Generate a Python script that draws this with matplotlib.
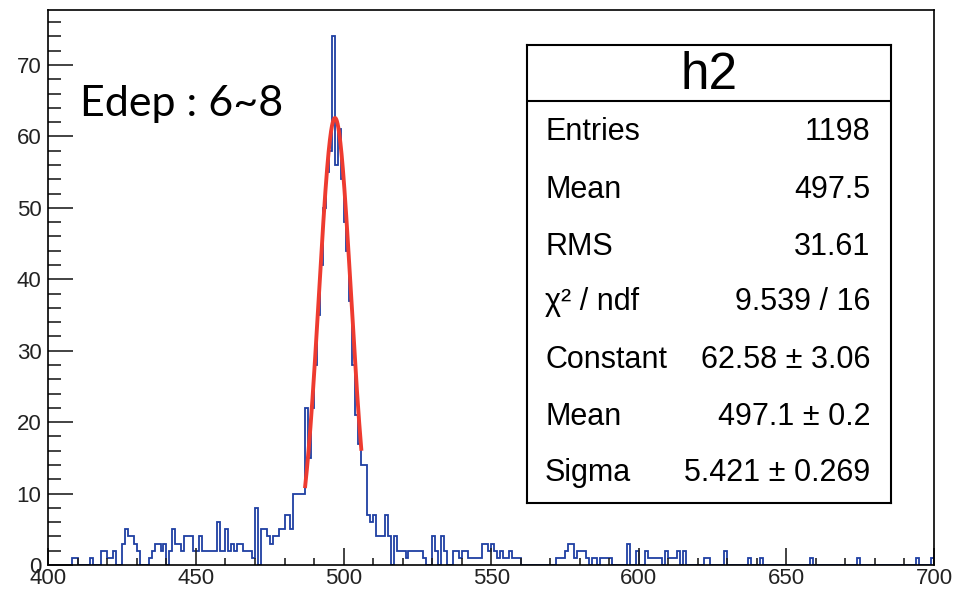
import numpy as np
import matplotlib.pyplot as plt
from matplotlib.ticker import MultipleLocator

plt.rcParams['font.family'] = ['Liberation Sans', 'DejaVu Sans']

# histogram h2 : 300 bins of width 1 between 400 and 700
bin_lo, bin_hi = 400, 700
counts_400_449 = [0, 0, 0, 0, 0, 0, 0, 0, 1, 1,
                  0, 0, 0, 0, 1, 0, 0, 0, 2, 2,
                  1, 1, 2, 0, 0, 3, 5, 4, 4, 3,
                  2, 0, 0, 0, 1, 2, 3, 3, 2, 3,
                  0, 2, 5, 3, 3, 2, 4, 4, 4, 2]
counts_450_499 = [2, 4, 2, 2, 2, 2, 2, 6, 2, 2,
                  5, 2, 3, 2, 3, 3, 2, 2, 2, 1,
                  8, 0, 5, 5, 4, 3, 4, 4, 5, 5,
                  7, 7, 5, 10, 10, 10, 10, 22, 15, 22,
                  28, 35, 42, 50, 55, 58, 74, 56, 61, 54]
counts_500_549 = [48, 44, 37, 28, 21, 17, 14, 14, 7, 6,
                  7, 4, 4, 4, 7, 4, 0, 4, 2, 2,
                  2, 1, 2, 2, 2, 2, 2, 1, 0, 0,
                  4, 2, 0, 4, 2, 0, 0, 2, 2, 1,
                  2, 2, 1, 1, 1, 1, 1, 3, 3, 2]
counts_550_599 = [3, 2, 1, 2, 1, 1, 2, 1, 1, 1,
                  0, 0, 0, 0, 0, 0, 0, 0, 0, 0,
                  0, 0, 1, 1, 1, 2, 3, 3, 1, 2,
                  2, 2, 1, 0, 1, 1, 0, 1, 1, 1,
                  1, 0, 0, 0, 0, 0, 3, 0, 0, 2]
counts_600_649 = [0, 0, 2, 1, 1, 1, 1, 1, 0, 2,
                  1, 1, 1, 2, 0, 2, 0, 0, 0, 0,
                  0, 0, 1, 1, 0, 0, 0, 0, 0, 2,
                  0, 0, 0, 0, 0, 0, 0, 1, 0, 0,
                  0, 1, 0, 0, 0, 0, 0, 0, 0, 0]
counts_650_699 = [0, 0, 0, 0, 0, 0, 0, 0, 1, 0,
                  0, 0, 0, 0, 0, 0, 0, 0, 0, 0,
                  0, 0, 0, 0, 1, 0, 0, 0, 0, 0,
                  0, 0, 0, 0, 0, 0, 0, 0, 0, 0,
                  0, 0, 0, 0, 1, 0, 0, 0, 0, 1]

# gaus fit
fit_const, fit_mean, fit_sigma = 62.58, 497.1, 5.421
fit_lo, fit_hi = 487, 506

# stats box
box_title = 'h2'
stat_labels = ['Entries', 'Mean', 'RMS', 'χ² / ndf', 'Constant', 'Mean', 'Sigma']
stat_values = ['1198', '497.5', '31.61', '9.539 / 16',
               '62.58 ± 3.06', '497.1 ± 0.2', '5.421 ± 0.269']

label_text = 'Edep : 6~8'

blue = '#1f3fa3'
red = '#ee3b30'

counts = np.array(counts_400_449 + counts_450_499 + counts_500_549
                  + counts_550_599 + counts_600_649 + counts_650_699)
edges = np.arange(bin_lo, bin_hi + 1)

fig = plt.figure(figsize=(9.55, 5.9), dpi=100)
ax = fig.add_axes([0.0506, 0.0424, 0.9274, 0.9407])

ax.stairs(counts, edges, color=blue, lw=1.3)
xf = np.linspace(fit_lo, fit_hi, 300)
ax.plot(xf, fit_const * np.exp(-0.5 * ((xf - fit_mean) / fit_sigma) ** 2),
        color=red, lw=2.8)

ax.set_xlim(bin_lo, bin_hi)
ax.set_ylim(0, 77.7)
ax.xaxis.set_major_locator(MultipleLocator(50))
ax.xaxis.set_minor_locator(MultipleLocator(10))
ax.yaxis.set_major_locator(MultipleLocator(10))
ax.yaxis.set_minor_locator(MultipleLocator(2))
ax.tick_params(which='both', direction='in', top=False, right=False,
               width=1.2, colors='#222222', labelsize=16)
ax.tick_params(axis='y', which='major', length=18, pad=5)
ax.tick_params(axis='y', which='minor', length=9)
ax.tick_params(axis='x', which='major', length=12, pad=2)
ax.tick_params(axis='x', which='minor', length=5)
for s in ax.spines.values():
    s.set_linewidth(1.2)

# Edep label
fig.text(80 / 955, 1 - 104 / 590, label_text, fontsize=31, family='Lato',
         va='center', ha='left')

# stats box
bx = fig.add_axes([0.5521, 0.1469, 0.3805, 0.7768])
bx.set_xticks([])
bx.set_yticks([])
bx.set_xlim(0, 1)
bx.set_ylim(0, 1)
for s in bx.spines.values():
    s.set_linewidth(1.5)
bx.axhline(0.8778, color='black', lw=1.5)
bx.text(0.5, 0.934, box_title, fontsize=37, ha='center', va='center')
row_y = [0.811, 0.684, 0.560, 0.440, 0.313, 0.189, 0.066]
for y, lab, val in zip(row_y, stat_labels, stat_values):
    bx.text(0.049, y, lab, fontsize=22, ha='left', va='center')
    bx.text(0.945, y, val, fontsize=22, ha='right', va='center')

fig.savefig('out.png', dpi=100)
